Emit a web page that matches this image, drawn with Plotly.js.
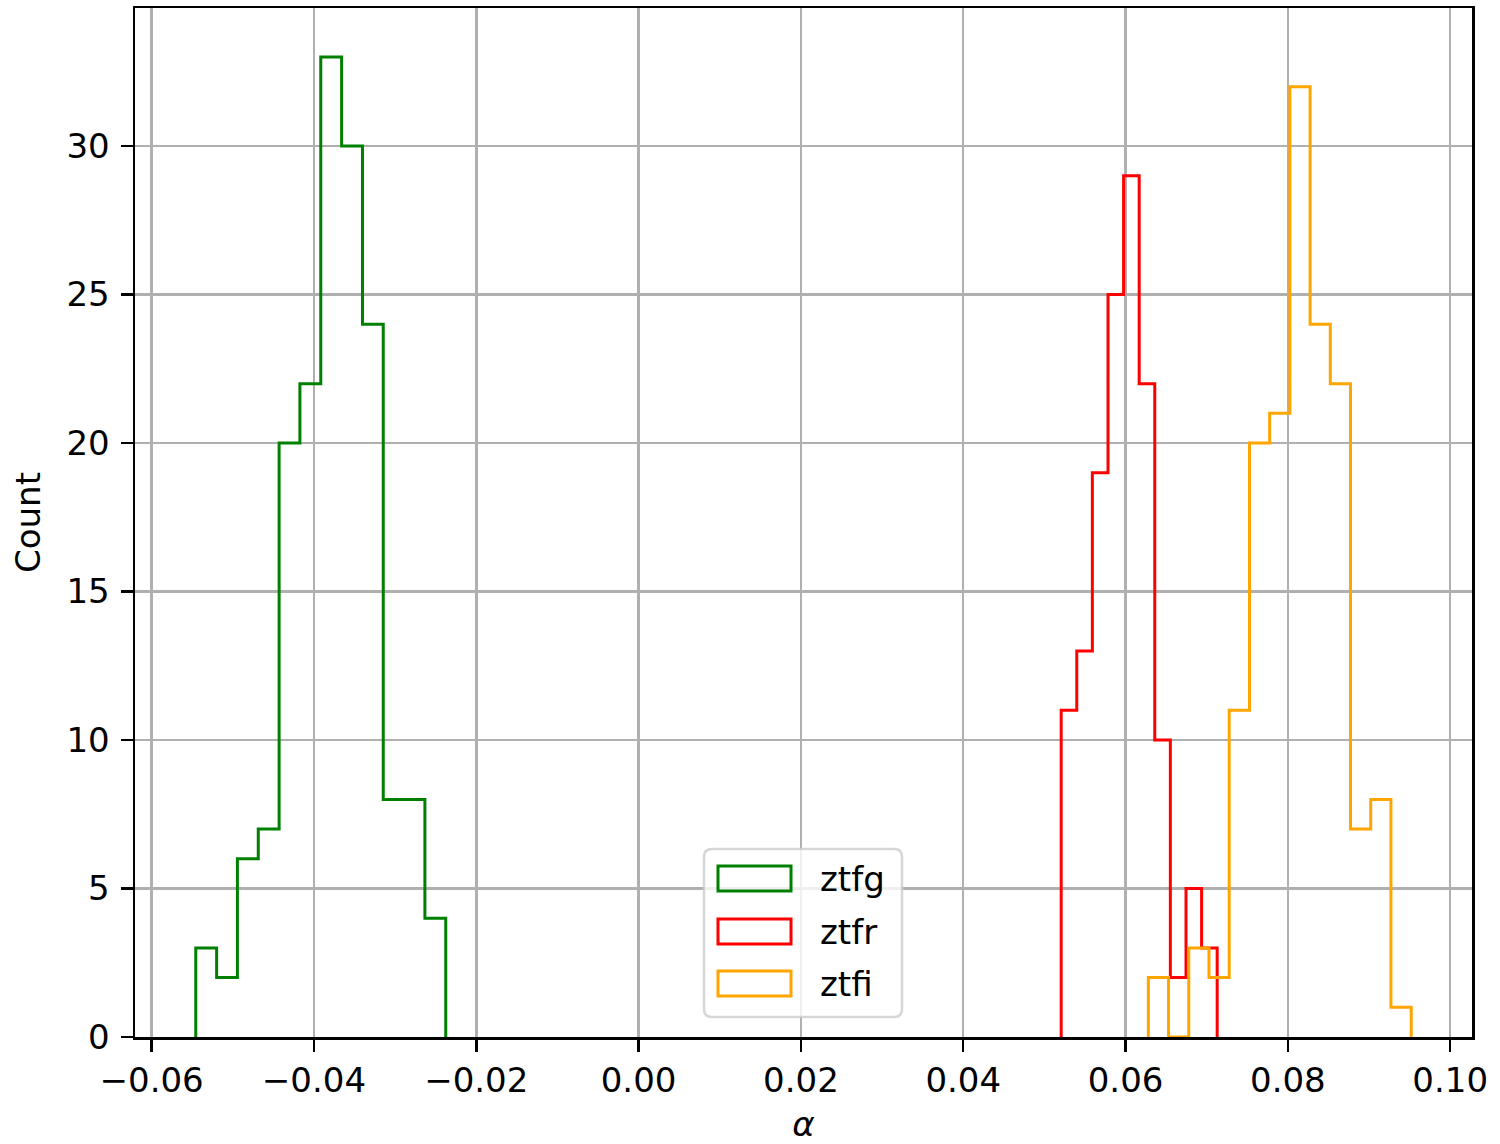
<!DOCTYPE html>
<html>
<head>
<meta charset="utf-8">
<script src="https://cdn.plot.ly/plotly-3.0.1.min.js"></script>
<style>html,body{margin:0;padding:0;background:#fff;}#chart{width:1500px;height:1144px;}</style>
</head>
<body>
<div id="chart"></div>
<script>
// ---- data ----
const seriesNames = ["ztfg", "ztfr", "ztfi"];
const seriesColors = ["#008000", "#ff0000", "#ffa500"];

const ztfgEdges = [-0.05456, -0.05199, -0.04943, -0.04686, -0.04429, -0.04173, -0.03916,
                   -0.03659, -0.03402, -0.03146, -0.02889, -0.02633, -0.02376];
const ztfgCounts = [3, 2, 6, 7, 20, 22, 33, 30, 24, 8, 8, 4];

const ztfrEdges = [0.05207, 0.05399, 0.05591, 0.05784, 0.05976, 0.06168,
                   0.06360, 0.06552, 0.06745, 0.06937, 0.07129];
const ztfrCounts = [11, 13, 19, 25, 29, 22, 10, 2, 5, 3];

const ztfiEdges = [0.06281, 0.06530, 0.06779, 0.07028, 0.07277, 0.07527, 0.07776,
                   0.08025, 0.08274, 0.08523, 0.08772, 0.09021, 0.09270, 0.09520];
const ztfiCounts = [2, 0, 3, 2, 11, 20, 21, 32, 24, 22, 7, 8, 1];

const xTickVals = [-0.06, -0.04, -0.02, 0.00, 0.02, 0.04, 0.06, 0.08, 0.10];
const xTickText = ["\u22120.06", "\u22120.04", "\u22120.02", "0.00", "0.02", "0.04", "0.06", "0.08", "0.10"];
const yTickVals = [0, 5, 10, 15, 20, 25, 30];
const yTickText = ["0", "5", "10", "15", "20", "25", "30"];

const xLabel = "<i>α</i>";
const yLabel = "Count";

// ---- build step outlines ----
function stepTrace(edges, counts, color, name) {
  const x = [edges[0]], y = [0];
  for (let i = 0; i < counts.length; i++) { x.push(edges[i]); y.push(counts[i]); }
  x.push(edges[edges.length - 1]); y.push(0);
  return {
    type: "scatter", mode: "lines", x: x, y: y, name: name,
    line: { color: color, width: 3, shape: "hv" },
    showlegend: false, hoverinfo: "skip"
  };
}

const allEdges = [ztfgEdges, ztfrEdges, ztfiEdges];
const allCounts = [ztfgCounts, ztfrCounts, ztfiCounts];
const traces = seriesNames.map((n, i) => stepTrace(allEdges[i], allCounts[i], seriesColors[i], n));

// x/y ranges with 5% margins like matplotlib
let xmin = Infinity, xmax = -Infinity, ymax = 0;
allEdges.forEach(e => { xmin = Math.min(xmin, e[0]); xmax = Math.max(xmax, e[e.length - 1]); });
allCounts.forEach(c => { ymax = Math.max(ymax, Math.max.apply(null, c)); });
const xpad = (xmax - xmin) * 0.05;

// ---- manual legend (paper coords) ----
const L = 135, R = 28, T = 8, B = 107, W = 1500 - L - R, H = 1144 - T - B;
const px = v => (v - L) / W;
const py = v => (1144 - B - v) / H;

function roundRect(x0, y0, x1, y1, r) {
  const rx = r / W, ry = r / H;
  const a = px(x0), b = px(x1), top = py(y0), bot = py(y1);
  return `M${a + rx},${top} L${b - rx},${top} Q${b},${top} ${b},${top - ry} ` +
         `L${b},${bot + ry} Q${b},${bot} ${b - rx},${bot} L${a + rx},${bot} ` +
         `Q${a},${bot} ${a},${bot + ry} L${a},${top - ry} Q${a},${top} ${a + rx},${top} Z`;
}

const FS = 34;
const shapes = [{
  type: "path", xref: "paper", yref: "paper", layer: "above",
  path: roundRect(704, 849, 902, 1017, 8),
  fillcolor: "rgba(255,255,255,0.8)",
  line: { color: "rgba(204,204,204,0.8)", width: 2.5 }
}];
const annotations = [];
const rowY = [866, 919, 971];
seriesNames.forEach((n, i) => {
  shapes.push({
    type: "rect", xref: "paper", yref: "paper", layer: "above",
    x0: px(718), x1: px(791), y0: py(rowY[i]), y1: py(rowY[i] + 25),
    fillcolor: "rgba(0,0,0,0)", line: { color: seriesColors[i], width: 3 }
  });
  annotations.push({
    xref: "paper", yref: "paper", x: px(818), y: py(rowY[i] + 13),
    xanchor: "left", yanchor: "middle", showarrow: false, text: n,
    font: { family: "DejaVu Sans", size: FS, color: "#000" }
  });
});

const axisCommon = {
  showline: true, mirror: true, linecolor: "#000", linewidth: 2.5,
  ticks: "outside", ticklen: 12, tickwidth: 2.5, tickcolor: "#000",
  showgrid: true, gridcolor: "#b0b0b0", gridwidth: 2.5, zeroline: false,
  tickfont: { family: "DejaVu Sans", size: FS, color: "#000" }
};

const layout = {
  width: 1500, height: 1144,
  margin: { l: L, r: R, t: T, b: B },
  paper_bgcolor: "#fff", plot_bgcolor: "#fff",
  showlegend: false,
  xaxis: Object.assign({}, axisCommon, {
    range: [xmin - xpad, xmax + xpad],
    tickmode: "array", tickvals: xTickVals, ticktext: xTickText,
    title: { text: xLabel, font: { family: "DejaVu Sans", size: FS, color: "#000" }, standoff: 14 }
  }),
  yaxis: Object.assign({}, axisCommon, {
    range: [0, ymax * 1.05],
    tickmode: "array", tickvals: yTickVals, ticktext: yTickText,
    ticklabelstandoff: 4,
    title: { text: yLabel, font: { family: "DejaVu Sans", size: FS, color: "#000" }, standoff: 16 }
  }),
  shapes: shapes,
  annotations: annotations
};

Plotly.newPlot("chart", traces, layout, { staticPlot: true, displayModeBar: false });
</script>
</body>
</html>
